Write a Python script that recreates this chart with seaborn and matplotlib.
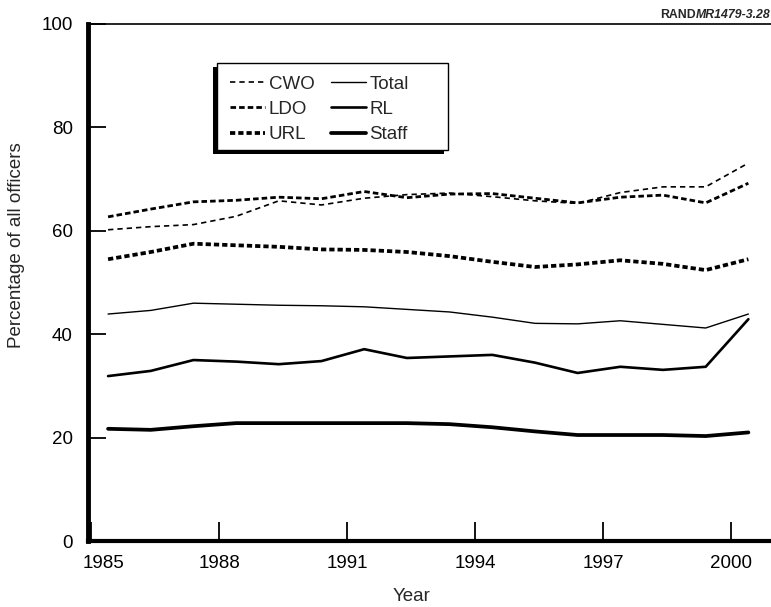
import numpy as np
import pandas as pd
import matplotlib
matplotlib.use("Agg")
import matplotlib.pyplot as plt
from matplotlib.patches import Rectangle
from matplotlib.transforms import ScaledTranslation
import seaborn as sns

# values (points sit a bit into each year)
years = [1985.4, 1986.4, 1987.4, 1988.4, 1989.4, 1990.4, 1991.4, 1992.4,
         1993.4, 1994.4, 1995.4, 1996.4, 1997.4, 1998.4, 1999.4, 2000.4]
cwo = [60.2, 60.8, 61.2, 62.8, 65.8, 65.0, 66.3, 67.0,
       67.3, 66.6, 65.8, 65.3, 67.4, 68.5, 68.5, 73.1]
ldo = [62.7, 64.2, 65.6, 65.9, 66.5, 66.2, 67.6, 66.4,
       67.1, 67.2, 66.3, 65.4, 66.5, 66.9, 65.4, 69.2]
url = [54.5, 55.9, 57.5, 57.2, 56.9, 56.4, 56.3, 55.9,
       55.1, 54.0, 53.0, 53.5, 54.3, 53.6, 52.4, 54.5]
total = [43.9, 44.6, 46.0, 45.8, 45.6, 45.5, 45.3, 44.8,
         44.3, 43.3, 42.1, 42.0, 42.6, 41.9, 41.2, 43.9]
rl = [31.9, 32.9, 35.0, 34.7, 34.2, 34.8, 37.1, 35.4,
      35.7, 36.0, 34.5, 32.5, 33.7, 33.1, 33.7, 42.9]
staff = [21.7, 21.5, 22.2, 22.8, 22.8, 22.8, 22.8, 22.8,
         22.6, 22.0, 21.2, 20.5, 20.5, 20.5, 20.3, 21.0]

xticks = [1985, 1988, 1991, 1994, 1997, 2000]
yticks = [0, 20, 40, 60, 80, 100]

sns.set_style("ticks")
plt.rcParams['font.family'] = ['Liberation Sans', 'DejaVu Sans']

fig = plt.figure(figsize=(7.71, 6.07), dpi=100)
ax = fig.add_axes([88/771, 66/607, 1 - 88/771, 517/607])

series = [
    ("CWO", cwo, 1.2, (0, (3.2, 2.4))),
    ("LDO", ldo, 2.0, (0, (2.0, 1.1))),
    ("URL", url, 2.7, (0, (1.4, 0.8))),
    ("Total", total, 1.0, "-"),
    ("RL", rl, 1.9, "-"),
    ("Staff", staff, 2.7, "-"),
]
for name, vals, lw, ls in series:
    df = pd.DataFrame({"Year": years, "Pct": vals})
    sns.lineplot(data=df, x="Year", y="Pct", ax=ax, color="black",
                 lw=lw, linestyle=ls, label=name)

ax.set_xlim(1984.93, 2000.93)
ax.set_ylim(0, 100)
ax.set_xticks(xticks)
ax.set_yticks(yticks)
ax.tick_params(axis='x', direction='in', length=14, width=1.3, pad=10,
               labelsize=13.5, colors='black')
ax.tick_params(axis='y', direction='in', length=13, width=1.3, pad=11,
               labelsize=13.5, colors='black')
# first year label sits a little right of the spine
lbl0 = ax.get_xticklabels()[0]
lbl0.set_transform(lbl0.get_transform() +
                   ScaledTranslation(0.13, 0, fig.dpi_scale_trans))

for s in ['left', 'bottom', 'top']:
    ax.spines[s].set_color('black')
ax.spines['left'].set_linewidth(3.5)
ax.spines['bottom'].set_linewidth(3.0)
ax.spines['top'].set_linewidth(1.2)
ax.spines['right'].set_visible(False)

ax.set_xlabel("Year", fontsize=13.5)
ax.xaxis.set_label_coords(0.474, -0.09)
ax.set_ylabel("Percentage of all officers", fontsize=13.5)
ax.yaxis.set_label_coords(-0.092, 0.573)

# legend box with a heavy left/bottom edge
ax.add_patch(Rectangle((0.183, 0.748), 0.338, 0.168, transform=ax.transAxes,
                       facecolor='black', edgecolor='none', zorder=4.8))
ax.add_patch(Rectangle((0.189, 0.756), 0.338, 0.168, transform=ax.transAxes,
                       facecolor='white', edgecolor='black', lw=1.0,
                       zorder=4.9))

leg = ax.legend(ncol=2, loc='upper left', bbox_to_anchor=(0.208, 0.900),
                borderaxespad=0, fontsize=13.5, frameon=False,
                handlelength=1.85, handletextpad=0.2, columnspacing=0.9,
                labelspacing=0.43, borderpad=0)
leg.set_zorder(5)

t1 = fig.text(660/771, 1 - 15/607, "RAND", fontsize=8.8, fontweight='bold',
              ha='left', va='center')
fig.canvas.draw()
e = t1.get_window_extent()
fig.text(e.x1/771, 1 - 15/607, "MR1479-3.28", fontsize=8.8,
         fontweight='bold', fontstyle='italic', ha='left', va='center')

fig.savefig("out.png", dpi=100)
